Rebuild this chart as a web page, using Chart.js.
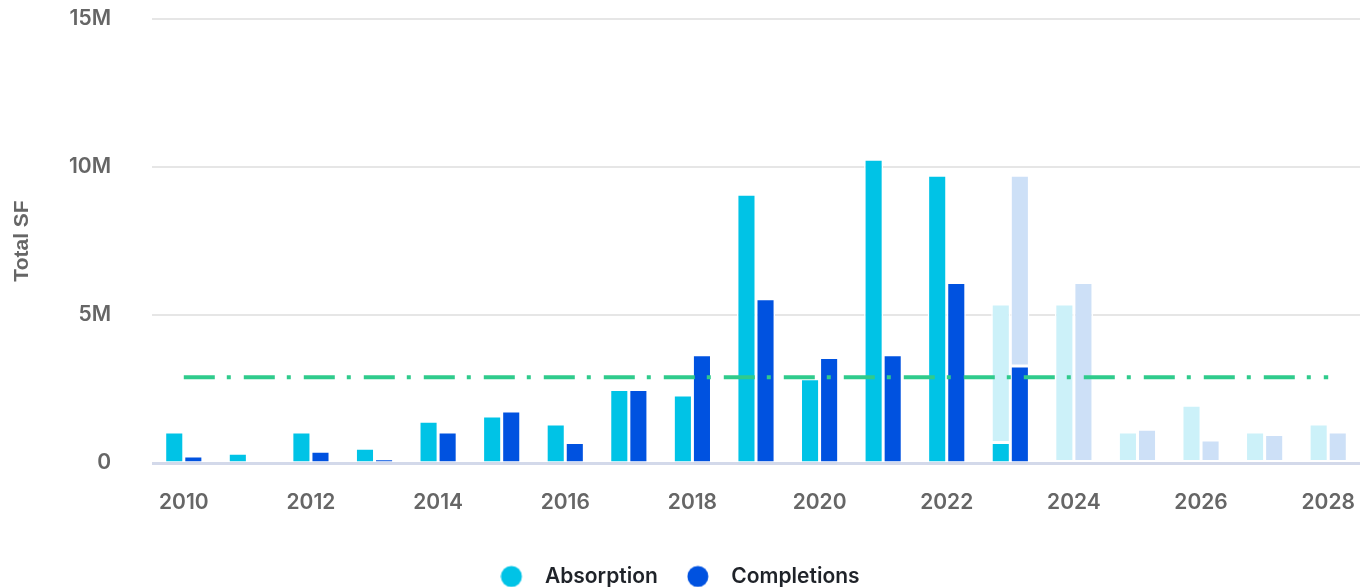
<!DOCTYPE html>
<html>
<head>
<meta charset="utf-8">
<script src="https://cdn.jsdelivr.net/npm/chart.js@4"></script>
<style>
    html, body { margin: 0; padding: 0; background: #fff; }
    #wrap { width: 1360px; height: 587px; }
</style>
</head>
<body>
<div id="wrap"><canvas id="supply-chart" width="1360" height="587"></canvas></div>
<script>
// ==================== Data ====================

const years = ['2010','2011','2012','2013','2014','2015','2016','2017','2018','2019',
               '2020','2021','2022','2023','2024','2025','2026','2027','2028'];

// actual (delivered) values, SF
const absorption  = [1.05e6, 0.33e6, 1.05e6, 0.5e6, 1.41e6, 1.59e6, 1.32e6, 2.48e6, 2.3e6, 9.08e6,
                     2.85e6, 10.26e6, 9.72e6, 0.69e6, null, null, null, null, null];
const completions = [0.24e6, 0, 0.4e6, 0.13e6, 1.05e6, 1.76e6, 0.69e6, 2.48e6, 3.66e6, 5.55e6,
                     3.56e6, 3.66e6, 6.1e6, 3.28e6, null, null, null, null, null];

// forecast portion, stacked on top of actuals
const absorptionForecast  = [null, null, null, null, null, null, null, null, null, null,
                             null, null, null, 4.68e6, 5.37e6, 1.05e6, 1.95e6, 1.05e6, 1.32e6];
const completionsForecast = [null, null, null, null, null, null, null, null, null, null,
                             null, null, null, 6.44e6, 6.1e6, 1.14e6, 0.78e6, 0.96e6, 1.05e6];

// long-run average absorption
const avgAbsorption = [2.9e6, 2.9e6, 2.9e6, 2.9e6, 2.9e6, 2.9e6, 2.9e6, 2.9e6, 2.9e6, 2.9e6,
                       2.9e6, 2.9e6, 2.9e6, 2.9e6, 2.9e6, 2.9e6, 2.9e6, 2.9e6, 2.9e6];

const yTicks = [0, 5e6, 10e6, 15e6];

// ==================== Chart ====================

const COLORS = {
    absorption: '#00c3e6',
    completions: '#0052e0',
    absorptionLight: '#ccf1f9',
    completionsLight: '#cde0f7',
    avg: '#2fcb8c',
    tick: '#666666',
    grid: '#e6e6e6',
    zero: '#d3d9ea'
};

const TICK_FONT = { family: 'Inter', size: 21, weight: '600' };

// round legend marker with its label pushed a little further right
function legendDot(color) {
    const c = document.createElement('canvas');
    c.width = 34; c.height = 24;
    const g = c.getContext('2d');
    g.fillStyle = color;
    g.beginPath();
    g.arc(11, 12, 10.5, 0, Math.PI * 2);
    g.fill();
    return c;
}

// white gaps between neighbouring bars; actuals sit right on the baseline
const barDefaults = {
    type: 'bar',
    borderColor: '#ffffff',
    borderSkipped: false,
    barPercentage: 1,
    categoryPercentage: 0.6,
    order: 1
};
const actualBorder = { top: 1.5, left: 1.5, right: 1.5, bottom: 0 };
const forecastBorder = { top: 1.5, left: 1.5, right: 1.5, bottom: 1.5 };

new Chart(document.getElementById('supply-chart').getContext('2d'), {
    data: {
        labels: years,
        datasets: [
            { ...barDefaults, label: 'Absorption', data: absorption, backgroundColor: COLORS.absorption, borderWidth: actualBorder, stack: 'abs' },
            { ...barDefaults, label: 'Absorption Forecast', data: absorptionForecast, backgroundColor: COLORS.absorptionLight, borderWidth: forecastBorder, stack: 'abs' },
            { ...barDefaults, label: 'Completions', data: completions, backgroundColor: COLORS.completions, borderWidth: actualBorder, stack: 'comp' },
            { ...barDefaults, label: 'Completions Forecast', data: completionsForecast, backgroundColor: COLORS.completionsLight, borderWidth: forecastBorder, stack: 'comp' },
            {
                type: 'line',
                label: 'Average Absorption',
                data: avgAbsorption,
                stack: 'avg',
                borderColor: COLORS.avg,
                borderWidth: 4,
                borderDash: [31, 12, 4, 13],
                pointRadius: 0,
                fill: false,
                order: 0
            }
        ]
    },
    options: {
        responsive: false,
        animation: false,
        layout: { padding: { top: 19, right: 0, left: 0, bottom: -10 } },
        plugins: {
            tooltip: { enabled: false },
            legend: {
                position: 'bottom',
                labels: {
                    usePointStyle: true,
                    pointStyleWidth: 34,
                    boxHeight: 22,
                    padding: 29,
                    color: '#1f2329',
                    font: { family: 'Inter', size: 21, weight: '600' },
                    generateLabels: () => [
                        { text: 'Absorption', datasetIndex: 0, pointStyle: legendDot(COLORS.absorption), fillStyle: COLORS.absorption, strokeStyle: COLORS.absorption, lineWidth: 0, fontColor: '#1f2329' },
                        { text: 'Completions', datasetIndex: 2, pointStyle: legendDot(COLORS.completions), fillStyle: COLORS.completions, strokeStyle: COLORS.completions, lineWidth: 0, fontColor: '#1f2329' }
                    ]
                }
            }
        },
        scales: {
            x: {
                stacked: true,
                grid: { display: false, tickLength: 27 },
                border: { display: false },
                ticks: {
                    autoSkip: false,
                    maxRotation: 0,
                    padding: 0,
                    color: COLORS.tick,
                    font: TICK_FONT,
                    callback: function (v, i) { return i % 2 === 0 ? this.getLabelForValue(v) : ''; }
                },
                afterFit: scale => { scale.height = 74; }
            },
            y: {
                stacked: true,
                min: 0,
                max: 15e6,
                afterBuildTicks: scale => { scale.ticks = yTicks.map(v => ({ value: v })); },
                afterFit: scale => { scale.width = 152; },
                border: { display: false },
                grid: {
                    drawTicks: true,
                    tickLength: 41,
                    tickColor: 'rgba(0,0,0,0)',
                    color: ctx => ctx.tick && ctx.tick.value === 0 ? COLORS.zero : COLORS.grid,
                    lineWidth: ctx => ctx.tick && ctx.tick.value === 0 ? 3 : 2
                },
                ticks: {
                    padding: 0,
                    color: COLORS.tick,
                    font: TICK_FONT,
                    callback: v => v === 0 ? '0' : (v / 1e6) + 'M'
                },
                title: {
                    display: true,
                    text: 'Total SF',
                    color: COLORS.tick,
                    font: { family: 'Liberation Sans', size: 21, weight: 'bold' },
                    padding: { top: 10, bottom: 0 }
                }
            }
        }
    }
});
</script>
</body>
</html>
